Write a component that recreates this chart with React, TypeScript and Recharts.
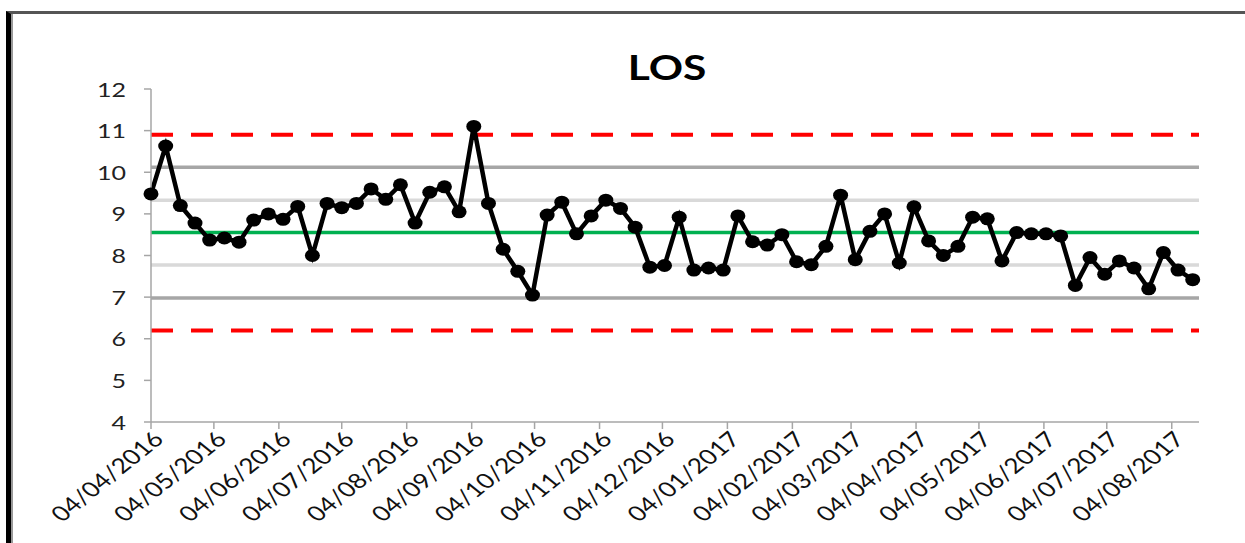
import React from 'react'
import { LineChart, Line, XAxis, YAxis, ReferenceLine } from 'recharts'

// weekly LOS, first week starting 04/04/2016
const startDate = '04/04/2016'
const los = [
  9.48, 10.63, 9.2, 8.78, 8.37, 8.42, 8.32, 8.85, 9.0, 8.87, 9.18, 8.0,
  9.25, 9.15, 9.25, 9.6, 9.35, 9.7, 8.78, 9.52, 9.65, 9.05, 11.1, 9.25,
  8.15, 7.62, 7.05, 8.97, 9.28, 8.52, 8.95, 9.33, 9.13, 8.68, 7.72, 7.76,
  8.92, 7.65, 7.7, 7.65, 8.95, 8.33, 8.25, 8.5, 7.85, 7.78, 8.22, 9.45,
  7.9, 8.58, 9.0, 7.82, 9.17, 8.35, 8.0, 8.22, 8.92, 8.88, 7.87, 8.55,
  8.52, 8.52, 8.47, 7.28, 7.95, 7.55, 7.87, 7.7, 7.2, 8.07, 7.65, 7.42,
]

const tickLabels = [
  '04/04/2016', '04/05/2016', '04/06/2016', '04/07/2016', '04/08/2016',
  '04/09/2016', '04/10/2016', '04/11/2016', '04/12/2016', '04/01/2017',
  '04/02/2017', '04/03/2017', '04/04/2017', '04/05/2017', '04/06/2017',
  '04/07/2017', '04/08/2017',
]
const yTicks = [4, 5, 6, 7, 8, 9, 10, 11, 12]

// control limits
const mean = 8.55
const sigma1 = [9.33, 7.77]
const sigma2 = [10.12, 6.98]
const limits = [10.9, 6.2]

const FONT = 'Lato, "Open Sans", sans-serif'
const STRETCH = 1.25

function toUtc(s: string) {
  const [d, m, y] = s.split('/').map(Number)
  return Date.UTC(y, m - 1, d)
}
const DAY = 86400000
const t0 = toUtc(startDate)
const tickDays = tickLabels.map((l) => (toUtc(l) - t0) / DAY)
const labelByDay = new Map(tickDays.map((d, i) => [d, tickLabels[i]]))

const data = los.map((v, i) => ({ t: i * 7, los: v }))

function XTick(props: any) {
  const { x, y, payload } = props
  const label = labelByDay.get(payload.value) ?? ''
  return (
    <text
      transform={`translate(${x + 7},${y + 4}) scale(${STRETCH},1) rotate(-45)`}
      textAnchor="end"
      dominantBaseline="central"
      fontFamily={FONT}
      fontSize={21}
      fill="#111"
    >
      {label}
    </text>
  )
}

function YTick(props: any) {
  const { x, y, payload } = props
  return (
    <text
      transform={`translate(${x - 16},${y}) scale(${STRETCH},1)`}
      textAnchor="end"
      dominantBaseline="central"
      fontFamily={FONT}
      fontSize={20}
      fill="#222"
    >
      {payload.value}
    </text>
  )
}

function Dot(props: any) {
  const { cx, cy, index } = props
  if (cx == null || cy == null) return null
  return <ellipse key={index} cx={cx} cy={cy} rx={7.5} ry={6.5} fill="#000" />
}

export default function App() {
  return (
    <div style={{ position: 'absolute', left: 0, top: 0, width: 1245, height: 543, background: '#fff' }}>
      <div
        style={{
          position: 'absolute',
          left: 6,
          top: 11,
          width: 1239,
          height: 532,
          borderLeft: '5px solid #000',
          borderTop: '3px solid #555',
          boxSizing: 'border-box',
        }}
      />
      <div
        style={{
          position: 'absolute',
          left: 11,
          top: 14,
          width: 2,
          height: 529,
          background: '#999',
        }}
      />
      <svg width={1245} height={100} style={{ position: 'absolute', left: 0, top: 0 }}>
        <text
          transform={`translate(667,80) scale(${STRETCH},1)`}
          textAnchor="middle"
          fontFamily={FONT}
          fontWeight="bold"
          fontSize={34}
          fill="#000"
        >
          LOS
        </text>
      </svg>
      <div style={{ position: 'absolute', left: 0, top: 0 }}>
        <LineChart
          width={1245}
          height={543}
          data={data}
          margin={{ top: 89, right: 46, bottom: 21, left: 91 }}
        >
          <XAxis
            type="number"
            dataKey="t"
            domain={[0, 500]}
            ticks={tickDays}
            interval={0}
            height={100}
            tick={XTick}
            tickSize={7}
            stroke="#a6a6a6"
            strokeWidth={1.5}
          />
          <YAxis
            domain={[4, 12]}
            ticks={yTicks}
            width={60}
            tick={YTick}
            tickSize={7}
            stroke="#a6a6a6"
            strokeWidth={1.5}
          />
          {limits.map((v) => (
            <ReferenceLine key={`l${v}`} y={v} stroke="#ff0000" strokeWidth={4} strokeDasharray="22 18" />
          ))}
          {sigma2.map((v) => (
            <ReferenceLine key={`s2${v}`} y={v} stroke="#a6a6a6" strokeWidth={3.5} />
          ))}
          {sigma1.map((v) => (
            <ReferenceLine key={`s1${v}`} y={v} stroke="#d9d9d9" strokeWidth={3.5} />
          ))}
          <ReferenceLine y={mean} stroke="#00b050" strokeWidth={3.5} />
          <Line
            dataKey="los"
            stroke="#000"
            strokeWidth={4.5}
            dot={Dot}
            activeDot={false}
            isAnimationActive={false}
          />
        </LineChart>
      </div>
    </div>
  )
}
